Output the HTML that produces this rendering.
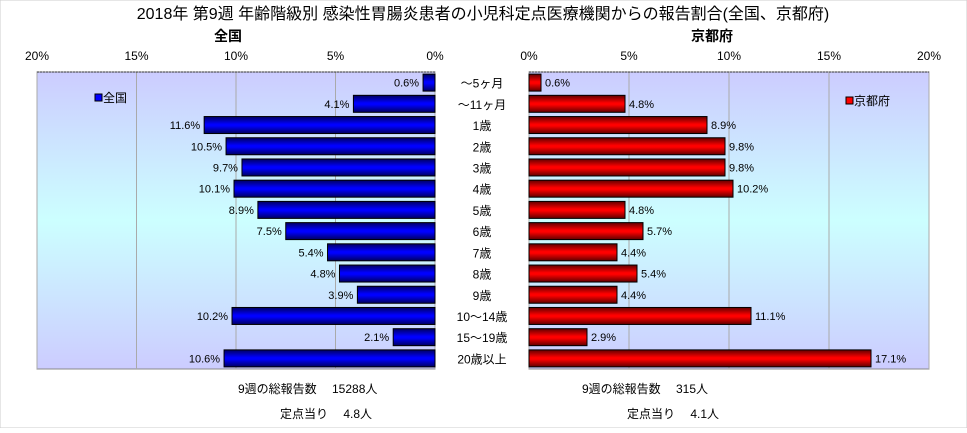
<!DOCTYPE html>
<html><head><meta charset="utf-8"><style>
body{margin:0;background:#fff;}
svg text{font-family:"Liberation Sans","Noto Sans CJK JP",sans-serif;}
</style></head><body>
<svg width="967" height="428" xmlns="http://www.w3.org/2000/svg">
<defs>
<linearGradient id="bg" x1="0" y1="0" x2="0" y2="1">
<stop offset="0" stop-color="#ccccff"/><stop offset="0.5" stop-color="#ccffff"/><stop offset="1" stop-color="#ccccff"/>
</linearGradient>
<linearGradient id="gb" x1="0" y1="0" x2="0" y2="1">
<stop offset="0" stop-color="#000060"/><stop offset="0.45" stop-color="#0000ff"/><stop offset="0.55" stop-color="#0000ff"/><stop offset="1" stop-color="#000060"/>
</linearGradient>
<linearGradient id="gr" x1="0" y1="0" x2="0" y2="1">
<stop offset="0" stop-color="#600000"/><stop offset="0.45" stop-color="#ff0000"/><stop offset="0.55" stop-color="#ff0000"/><stop offset="1" stop-color="#600000"/>
</linearGradient>
</defs>
<rect x="0" y="0" width="967" height="428" fill="#fff" stroke="#ccc"/>
<text x="483" y="19" font-size="16" text-anchor="middle">2018年 第9週 年齢階級別 感染性胃腸炎患者の小児科定点医療機関からの報告割合(全国、京都府)</text>
<text x="228" y="41" font-size="14" font-weight="bold" text-anchor="middle">全国</text>
<text x="712" y="41" font-size="14" font-weight="bold" text-anchor="middle">京都府</text>
<g id="g"></g>
<text x="238" y="393" font-size="12">9週の総報告数　 15288人</text>
<text x="280" y="418" font-size="12">定点当り　 4.8人</text>
<text x="582" y="393" font-size="12">9週の総報告数　 315人</text>
<text x="627" y="418" font-size="12">定点当り　 4.1人</text>
</svg>
<script>
const categories=["～5ヶ月","～11ヶ月","1歳","2歳","3歳","4歳","5歳","6歳","7歳","8歳","9歳","10～14歳","15～19歳","20歳以上"];
const nationalValues=[0.6,4.1,11.6,10.5,9.7,10.1,8.9,7.5,5.4,4.8,3.9,10.2,2.1,10.6];
const kyotoValues=[0.6,4.8,8.9,9.8,9.8,10.2,4.8,5.7,4.4,5.4,4.4,11.1,2.9,17.1];
const tickValues=[0,5,10,15,20];
const NS="http://www.w3.org/2000/svg";
const grp=document.getElementById('g');
const plotTop=72,plotBot=369,rowH=(plotBot-plotTop)/categories.length,barH=17;
const xL=v=>435-v*19.9;
const xR=v=>529+v*20;
function mk(t,a){const el=document.createElementNS(NS,t);for(const k in a)el.setAttribute(k,a[k]);grp.appendChild(el);return el;}
let e=mk('rect',{x:xL(20),y:plotTop,width:xL(0)-xL(20),height:plotBot-plotTop,fill:'url(#bg)',stroke:'#888'});


e=mk('rect',{x:xR(0),y:plotTop,width:xR(20)-xR(0),height:plotBot-plotTop,fill:'url(#bg)',stroke:'#888'});


tickValues.forEach(t=>{
  e=mk('line',{x1:xL(t),x2:xL(t),y1:plotTop,y2:plotBot,stroke:'#aaa'});
  
  
  e=mk('line',{x1:xR(t),x2:xR(t),y1:plotTop,y2:plotBot,stroke:'#aaa'});
  
  
  e=mk('text',{x:xL(t),y:60,'font-size':12,'text-anchor':'middle'});e.textContent=t+'%';
  
  
  e=mk('text',{x:xR(t),y:60,'font-size':12,'text-anchor':'middle'});e.textContent=t+'%';
  
  
});
e=mk('line',{x1:xL(20),x2:xL(0),y1:plotTop,y2:plotTop,stroke:'#333','stroke-dasharray':'2,1'});


e=mk('line',{x1:xR(0),x2:xR(20),y1:plotTop,y2:plotTop,stroke:'#333','stroke-dasharray':'2,1'});


categories.forEach((c,i)=>{
  const cy=plotTop+rowH*(i+0.5);
  const nv=nationalValues[i],kv=kyotoValues[i];
  e=mk('rect',{x:xL(nv),y:cy-barH/2,width:xL(0)-xL(nv),height:barH,fill:'url(#gb)',stroke:'#000'});
  
  
  e=mk('text',{x:xL(nv)-4,y:cy+4,'font-size':11,'text-anchor':'end'});e.textContent=nv.toFixed(1)+'%';
  
  
  e=mk('rect',{x:xR(0),y:cy-barH/2,width:xR(kv)-xR(0),height:barH,fill:'url(#gr)',stroke:'#000'});
  
  
  e=mk('text',{x:xR(kv)+4,y:cy+4,'font-size':11});e.textContent=kv.toFixed(1)+'%';
  
  
  e=mk('text',{x:482,y:cy+5,'font-size':12,'text-anchor':'middle'});e.textContent=c;
  
  
});
e=mk('rect',{x:95,y:94,width:7,height:7,fill:'#0000ff',stroke:'#000'});


e=mk('text',{x:103,y:102,'font-size':12});e.textContent='全国';


e=mk('rect',{x:846,y:97,width:7,height:7,fill:'#ff0000',stroke:'#000'});


e=mk('text',{x:854,y:105,'font-size':12});e.textContent='京都府';


</script>
</body></html>
